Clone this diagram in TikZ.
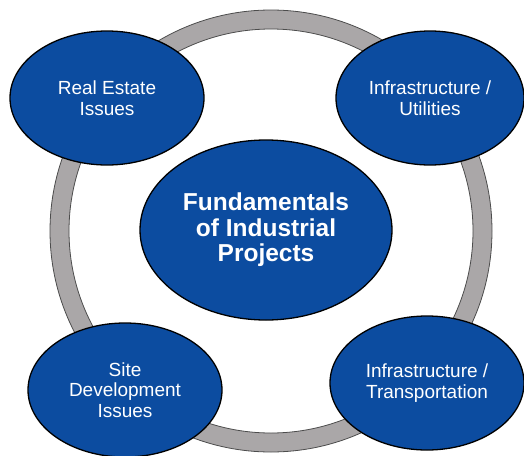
\documentclass[tikz,border=0pt]{standalone}
\usepackage{fontspec}
\setmainfont{Liberation Sans}
\usetikzlibrary{shapes.geometric}

\definecolor{topicblue}{RGB}{12,76,160}
\definecolor{ringgray}{RGB}{170,167,168}

\tikzset{
  topic/.style={ellipse, draw=black, line width=1.3pt, fill=topicblue,
    text=white, align=center, inner sep=0pt,
    font=\fontsize{19}{20.5}\selectfont},
  core/.style={topic, font=\bfseries\fontsize{24.5}{25.5}\selectfont}
}

\begin{document}
\begin{tikzpicture}[x=1pt, y=-1pt]
\useasboundingbox (0,0) rectangle (524,455);
% ring behind the topics
\fill[ringgray, even odd rule] (271,231) circle (221) (271,231) circle (202);
\draw[black!70, line width=0.8pt] (271,231) circle (221);
\draw[black!70, line width=0.8pt] (271,231) circle (202);
% topics
\node[core, minimum width=252, minimum height=180] (fund) at (266,230)
  {Fundamentals\\of Industrial\\Projects};
\node[topic, minimum width=194, minimum height=134] (estate) at (107,98)
  {Real Estate\\Issues};
\node[topic, minimum width=188, minimum height=134] (util) at (430,98)
  {Infrastructure /\\Utilities};
\node[topic, minimum width=194, minimum height=134] (site) at (125,390)
  {Site\\Development\\Issues};
\node[topic, minimum width=194, minimum height=134] (trans) at (427,383)
  {Infrastructure /\\Transportation};
\end{tikzpicture}
\end{document}
